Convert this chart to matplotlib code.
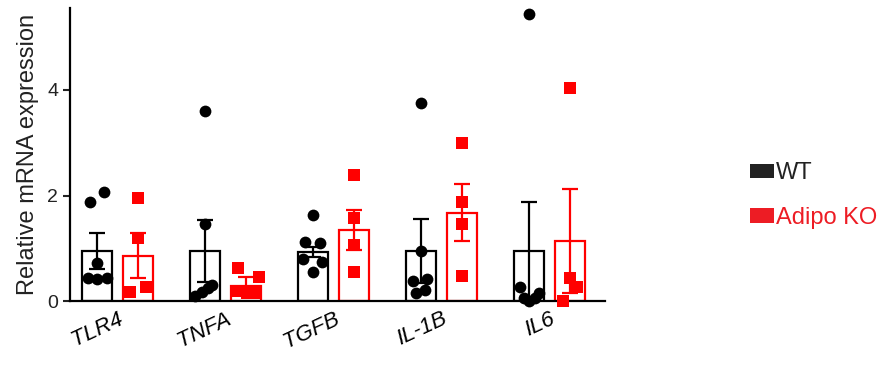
import matplotlib.pyplot as plt
import numpy as np
from matplotlib.patches import Patch

plt.rcParams['font.family'] = ['Liberation Sans', 'DejaVu Sans']

genes = ['TLR4', 'TNFA', 'TGFB', 'IL-1B', 'IL6']

wt_mean = [0.95, 0.95, 0.93, 0.95, 0.95]
wt_sem = [0.34, 0.58, 0.09, 0.60, 0.93]
ko_mean = [0.86, 0.28, 1.35, 1.67, 1.14]
ko_sem = [0.43, 0.17, 0.38, 0.54, 0.98]

wt_pts = [
    [1.88, 2.07, 0.72, 0.44, 0.42, 0.44],
    [3.60, 1.46, 0.30, 0.10, 0.18, 0.25],
    [1.63, 1.12, 1.10, 0.80, 0.74, 0.55],
    [3.75, 0.95, 0.38, 0.42, 0.15, 0.22],
    [5.44, 0.27, 0.15, 0.00, 0.06, 0.06],
]
ko_pts = [
    [1.95, 1.19, 0.17, 0.27],
    [0.63, 0.46, 0.20, 0.15, 0.15],
    [2.39, 1.57, 1.06, 0.55],
    [3.00, 1.88, 1.46, 0.47],
    [4.04, 0.43, 0.26, 0.00],
]

# horizontal scatter of the dots (fraction of a group width)
wt_jit = [
    [-0.065, 0.065, 0.0, -0.083, 0.0, 0.093],
    [0.0, 0.0, 0.06, -0.09, -0.03, 0.03],
    [0.0, -0.075, 0.065, -0.09, 0.085, 0.0],
    [0.0, 0.0, -0.075, 0.055, -0.045, 0.035],
    [0.0, -0.09, 0.09, 0.0, -0.05, 0.05],
]
ko_jit = [
    [0.0, 0.0, -0.075, 0.075],
    [-0.075, 0.12, -0.075, 0.01, 0.085],
    [0.0, 0.0, 0.0, 0.0],
    [0.0, 0.0, 0.0, 0.0],
    [0.0, 0.0, 0.065, -0.065],
]

black = '#000000'
red = '#ff0000'

fig = plt.figure(figsize=(8.9, 3.65), dpi=100)
ax = fig.add_axes([0.0787, 0.175, 0.601, 0.803])

x = np.arange(len(genes))
off = 0.19
w = 0.28

ax.bar(x - off, wt_mean, w, facecolor='none', edgecolor=black, linewidth=1.6, zorder=2)
ax.bar(x + off, ko_mean, w, facecolor='none', edgecolor=red, linewidth=1.6, zorder=2)

for i in range(len(genes)):
    ax.scatter(x[i] - off + np.array(wt_jit[i]), wt_pts[i], s=72, marker='o',
               color=black, zorder=3, clip_on=False, linewidths=0)
    ax.scatter(x[i] + off + np.array(ko_jit[i]), ko_pts[i], s=68, marker='s',
               color=red, zorder=3, clip_on=False, linewidths=0)

ax.errorbar(x - off, wt_mean, yerr=wt_sem, fmt='none', ecolor=black,
            elinewidth=1.6, capsize=6, capthick=1.6, zorder=4)
ax.errorbar(x + off, ko_mean, yerr=ko_sem, fmt='none', ecolor=red,
            elinewidth=1.6, capsize=6, capthick=1.6, zorder=4)

ax.set_xlim(-0.44, 4.51)
ax.set_ylim(0, 5.55)
ax.set_yticks([0, 2, 4])
ax.set_xticks(x)
ax.set_xticklabels(genes, rotation=25, ha='right', rotation_mode='anchor',
                   style='italic', fontsize=16)
ax.tick_params(axis='x', length=0, pad=5)
ax.tick_params(axis='y', length=5, width=1.5, labelsize=14, colors='#222222')
ax.set_ylabel('Relative mRNA expression', fontsize=17, color='#222222', labelpad=6)

for s in ['top', 'right']:
    ax.spines[s].set_visible(False)
for s in ['left', 'bottom']:
    ax.spines[s].set_linewidth(1.6)

handles = [Patch(facecolor='#222222', edgecolor='none', label='WT'),
           Patch(facecolor='#ed1c24', edgecolor='none', label='Adipo KO')]
fig.legend(handles=handles, loc='upper left', bbox_to_anchor=(0.843, 0.555),
           frameon=False, fontsize=17, handlelength=1.0, handleheight=0.55,
           handletextpad=0.1, labelspacing=0.95, borderpad=0, borderaxespad=0,
           labelcolor=['#222222', '#ed1c24'])

fig.savefig('out.png', dpi=100)
